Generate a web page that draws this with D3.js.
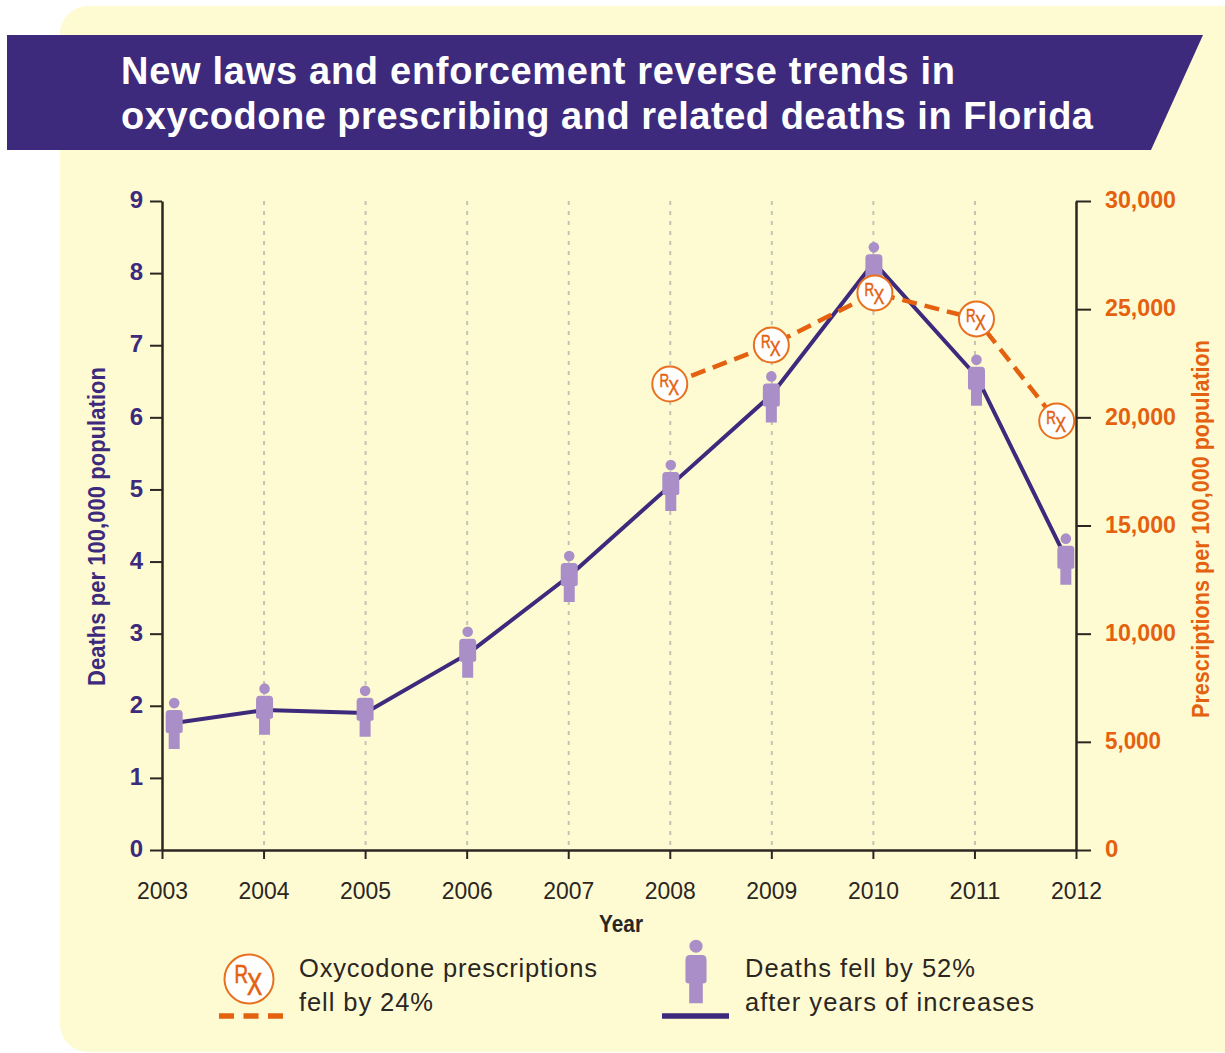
<!DOCTYPE html>
<html><head><meta charset="utf-8">
<script src="https://cdn.jsdelivr.net/npm/d3@7"></script>
<style>html,body{margin:0;padding:0;background:#fff}svg{display:block}text{font-family:"Liberation Sans",Arial,sans-serif}</style>
</head><body><svg id="c" width="1225" height="1053"></svg>
<script>
const yearTicks=[2003,2004,2005,2006,2007,2008,2009,2010,2011,2012];
const deathYears=[2003.12,2004.01,2005.0,2006.01,2007.01,2008.01,2009.0,2010.01,2011.02,2011.9];
const deathValues=[1.76,1.94,1.90,2.72,3.80,5.06,6.31,8.15,6.57,4.05];
const figureValues=[1.76,1.96,1.93,2.75,3.80,5.06,6.29,8.08,6.52,4.04];
const rxYears=[2008.0,2009.0,2010.02,2011.02,2011.81];
const rxValues=[21540,23340,25750,24550,19830];
const leftTicks=[0,1,2,3,4,5,6,7,8,9];
const rightTicks=[0,5000,10000,15000,20000,25000,30000];
const titleLines=["New laws and enforcement reverse trends in","oxycodone prescribing and related deaths in Florida"];
const PURPLE="#3d2a7c",ORANGE="#e4610f",LILAC="#a98ec8",CREAM="#fefbd3",DARK="#2b2622";
const svg=d3.select("#c");
const L=162,R=1076,T=201,B=850;
const x=d3.scaleLinear().domain([2003,2012]).range([L,R]);
const yL=d3.scaleLinear().domain([0,9]).range([B,T]);
const yR=d3.scaleLinear().domain([0,30000]).range([B,T]);

svg.append("rect").attr("x",60).attr("y",6).attr("width",1200).attr("height",1046).attr("rx",28).attr("fill",CREAM);
svg.append("path").attr("d","M7,35H1203L1151,150H7Z").attr("fill",PURPLE);
svg.selectAll("text.title").data(titleLines).join("text").attr("class","title")
 .attr("x",121).attr("y",(d,i)=>84+i*44.5).attr("fill","#fff").attr("font-size",38).attr("font-weight",700)
 .attr("textLength",(d,i)=>i?972:834).attr("lengthAdjust","spacing").text(d=>d);

// gridlines
svg.append("g").selectAll("line").data(yearTicks.slice(1,-1)).join("line")
 .attr("x1",d=>x(d)+.5).attr("x2",d=>x(d)+.5).attr("y1",T).attr("y2",B)
 .attr("stroke","#c4c3b4").attr("stroke-width",2).attr("stroke-dasharray","4 6");

function styleAxis(g,color){
 g.selectAll("path.domain,line").attr("stroke",DARK);
 g.selectAll("path.domain").attr("stroke-width",2.5);
 g.selectAll(".tick line").attr("stroke-width",2);
 g.selectAll("text").attr("fill",color);
}
const gl=svg.append("g").attr("transform",`translate(${L},0)`)
 .call(d3.axisLeft(yL).tickValues(leftTicks).tickSize(12).tickSizeOuter(0).tickPadding(7));
styleAxis(gl,PURPLE);
gl.selectAll("text").attr("font-size",24).attr("font-weight",700).attr("dy",".28em");
const gr=svg.append("g").attr("transform",`translate(${R},0)`)
 .call(d3.axisRight(yR).tickValues(rightTicks).tickSize(15).tickSizeOuter(0).tickPadding(14).tickFormat(d3.format(",")));
styleAxis(gr,ORANGE);
gr.selectAll("text").attr("font-size",24).attr("font-weight",700).attr("dy",".28em")
 .attr("textLength",d=>d===0?null:(d>=10000?71:56)).attr("lengthAdjust","spacingAndGlyphs");
const gb=svg.append("g").attr("transform",`translate(0,${B})`)
 .call(d3.axisBottom(x).tickValues(yearTicks).tickSize(9).tickSizeOuter(0).tickPadding(23).tickFormat(d3.format("d")));
styleAxis(gb,DARK);
gb.selectAll("text").attr("font-size",24).attr("textLength",51).attr("lengthAdjust","spacingAndGlyphs");

svg.append("text").attr("x",621).attr("y",932).attr("text-anchor","middle")
 .attr("font-size",24).attr("font-weight",700).attr("fill",DARK).attr("textLength",44).attr("lengthAdjust","spacingAndGlyphs").text("Year");
svg.append("text").attr("transform","translate(105,526.5) rotate(-90)").attr("text-anchor","middle")
 .attr("font-size",24).attr("font-weight",700).attr("fill",PURPLE).attr("textLength",319).attr("lengthAdjust","spacingAndGlyphs").text("Deaths per 100,000 population");
svg.append("text").attr("transform","translate(1209,529) rotate(-90)").attr("text-anchor","middle")
 .attr("font-size",24).attr("font-weight",700).attr("fill",ORANGE).attr("textLength",378).attr("lengthAdjust","spacingAndGlyphs").text("Prescriptions per 100,000 population");

// person glyph, centred on its waist
function person(g,s){
 g.append("circle").attr("cy",-20*s).attr("r",5.3*s).attr("fill",LILAC);
 g.append("path").attr("fill",LILAC)
  .attr("d",`M${-8.5*s},${-9*s}Q${-8.5*s},${-13*s} ${-5*s},${-13*s}H${5*s}Q${8.5*s},${-13*s} ${8.5*s},${-9*s}V${8*s}Q${8.5*s},${10*s} ${5.5*s},${10*s}V${26*s}H${-5.5*s}V${10*s}Q${-8.5*s},${10*s} ${-8.5*s},${8*s}Z`);
}
function rxBadge(g,r){
 const k=r/17;
 g.append("circle").attr("r",r).attr("fill","#fff").attr("stroke","#e8711f").attr("stroke-width",2);
 const t=g.append("text").attr("transform",`scale(${.72*k},${k})`).attr("x",-14).attr("y",3)
  .attr("font-size",18).attr("fill",ORANGE).attr("stroke",ORANGE).attr("stroke-width",.5).text("R");
 t.append("tspan").attr("dx",-1).attr("dy",8).attr("font-size",22).text("X");
}

const deaths=deathYears.map((d,i)=>[d,deathValues[i]]);
const figures=deathYears.map((d,i)=>[d,figureValues[i]]);
const rx=rxYears.map((d,i)=>[d,rxValues[i]]);
svg.append("path").attr("fill","none").attr("stroke",PURPLE).attr("stroke-width",4).attr("stroke-linejoin","round")
 .attr("d",d3.line().x(d=>x(d[0])).y(d=>yL(d[1]))(deaths));
svg.append("g").selectAll("g").data(figures).join("g")
 .attr("transform",d=>`translate(${x(d[0])},${yL(d[1])})`).each(function(){person(d3.select(this),1)});
svg.append("path").attr("fill","none").attr("stroke",ORANGE).attr("stroke-width",4.5).attr("stroke-dasharray","15 8")
 .attr("d",d3.line().x(d=>x(d[0])).y(d=>yR(d[1]))(rx));
svg.append("g").selectAll("g").data(rx).join("g")
 .attr("transform",d=>`translate(${x(d[0])},${yR(d[1])})`).each(function(){rxBadge(d3.select(this),17.5)});

// legend
const lg1=svg.append("g").attr("transform","translate(249,979)");
rxBadge(lg1,24.5);
svg.append("path").attr("d","M219,1016H283").attr("stroke",ORANGE).attr("stroke-width",5.5).attr("stroke-dasharray","15 9.5");
const lg2=svg.append("g").attr("transform","translate(696,971)");
person(lg2,1.24);
svg.append("path").attr("d","M662,1016H729").attr("stroke",PURPLE).attr("stroke-width",5.5);
const legend=[[299,977,"Oxycodone prescriptions",298],[299,1011,"fell by 24%",134],[745,977,"Deaths fell by 52%",230],[745,1011,"after years of increases",289]];
svg.append("g").selectAll("text").data(legend).join("text").attr("x",d=>d[0]).attr("y",d=>d[1])
 .attr("font-size",25.5).attr("fill",DARK).attr("textLength",d=>d[3]).attr("lengthAdjust","spacing").text(d=>d[2]);
</script></body></html>
